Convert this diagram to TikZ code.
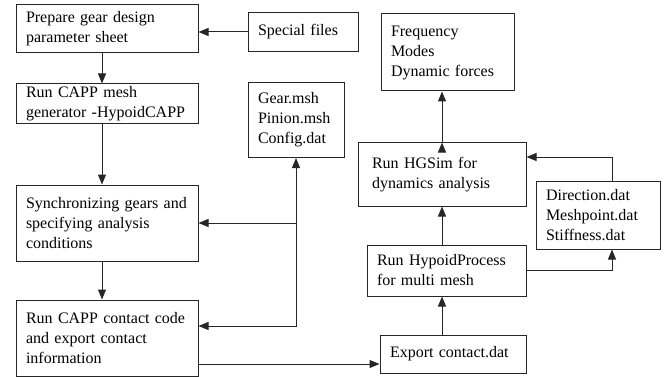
\documentclass[tikz,border=0pt]{standalone}
\usepackage{fontspec}
\setmainfont{Liberation Serif}
\usetikzlibrary{positioning, arrows.meta}

\begin{document}
\begin{tikzpicture}[x=1pt, y=-1pt, ->, >={Triangle[length=10pt,width=8pt]}, line width=1pt, draw=black!85,
	box/.style={draw=black!85, align=left, inner xsep=10pt, inner ysep=1pt, font=\fontsize{16}{20}\selectfont}]

		\useasboundingbox (0,0) rectangle (669,377);

		% left column
		\node (1) [box, text width=162pt, minimum height=48pt] at (107,29) {Prepare gear design\\parameter sheet};
		\node (2) [box, text width=162pt, minimum height=40pt, below=30pt of 1] {Run CAPP mesh\\generator -HypoidCAPP};
		\node (3) [box, text width=162pt, minimum height=76pt, below=60pt of 2] {Synchronizing gears and\\specifying analysis\\conditions};
		\node (4) [box, text width=162pt, minimum height=76pt, below=38pt of 3] {Run CAPP contact code\\and export contact\\information};
		\node (5) [box, text width=90pt, minimum height=39pt, right=49pt of 1, yshift=-3pt] {Special files};
		\node (6) [box, text width=76pt, minimum height=75pt, below right=30pt and 0pt of 5.south west] {Gear.msh\\Pinion.msh\\Config.dat};

		% right column
		\node (7) [box, text width=126pt, minimum height=38pt] at (453,354) {Export contact.dat};
		\node (8) [box, text width=139pt, minimum height=51pt, above left=38pt and 0pt of 7.north east] {Run HypoidProcess\\for multi mesh};
		\node (9) [box, inner xsep=14pt, text width=140pt, minimum height=63pt, above left=38pt and 0pt of 8.north east] {Run HGSim for\\dynamics analysis};
		\node (10) [box, text width=113pt, minimum height=77pt, above left=51pt and 12pt of 9.north east] {Frequency\\Modes\\Dynamic forces};
		\node (11) [box, text width=104pt, minimum height=68pt, below right=38pt and 9pt of 9.north east] {Direction.dat\\Meshpoint.dat\\Stiffness.dat};

		\coordinate (a) at ([yshift=-26pt]4.east);
		\coordinate (b) at ([yshift=12pt]4.east);
		\coordinate (c) at ([yshift=17.5pt]9.east);

			\path [draw=black!85]
				(5.west) edge (5.west -| 1.east)
				([xshift=-5pt]1.south) edge ([xshift=-5pt]2.north)
				([xshift=-5pt]2.south) edge ([xshift=-5pt]3.north)
				([xshift=-5pt]3.south) edge ([xshift=-5pt]4.north)
				(3.east -| 6.south) edge (3.east)
				(a) edge (a -| 7.west)

				(7.north -| 9.south) edge (8.south -| 9.south)
				(8.north -| 9.south) edge (9.south)
				(9.north) edge (9.north |- 10.south);

		\draw [<->, black!85] (b) -| (6.south);
		\draw [black!85] (8.east) -| ([xshift=14pt]11.south);
		\draw [black!85] ([xshift=14pt]11.north) |- (c);

\end{tikzpicture}
\end{document}
